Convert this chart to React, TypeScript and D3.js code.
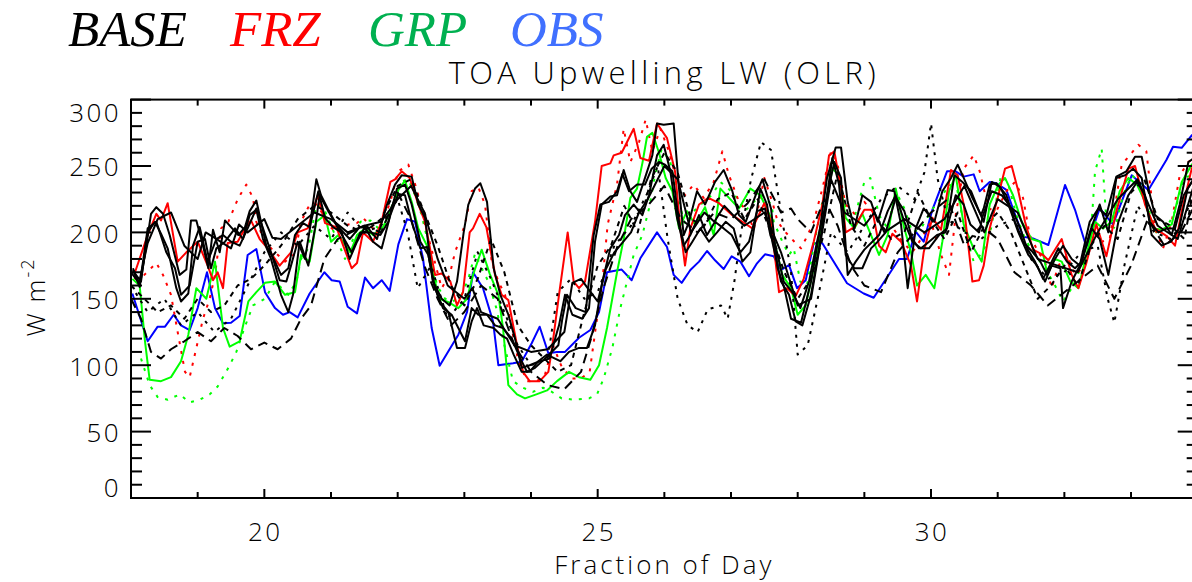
import React from 'react';
import * as d3 from 'd3';

type P = [number, number];

// ---------- axis ticks ----------
const X_LABEL_TICKS = [20, 25, 30];
const X_MINOR_TICKS = [19, 20, 21, 22, 23, 24, 25, 26, 27, 28, 29, 30, 31, 32, 33];
const Y_LABEL_TICKS = [0, 50, 100, 150, 200, 250, 300];
const Y_MINOR_TICKS = [10, 20, 30, 40, 60, 70, 80, 90, 110, 120, 130, 140, 160, 170, 180, 190, 210, 220, 230, 240, 260, 270, 280, 290];

const LEGEND = ['BASE', 'FRZ', 'GRP', 'OBS'];

// ---------- data: [fraction of day, W m-2] ----------
const OBS: P[] = [[18.02,154],[18.25,118],[18.40,129],[18.51,129],[18.64,138],[18.75,130],[18.88,126.5],[19.00,143],[19.14,170],[19.26,143],[19.38,131.5],[19.50,132],[19.63,137],[19.75,183],[19.88,187.5],[20.01,155],[20.16,143],[20.28,138],[20.38,140],[20.50,136],[20.68,154],[20.90,170],[21.01,164],[21.13,163],[21.25,144],[21.39,139],[21.51,166],[21.63,158],[21.76,164],[21.88,156],[22.01,191],[22.14,210],[22.26,208],[22.38,180.5],[22.51,128],[22.63,99.6],[22.79,113],[22.91,123],[23.04,140],[23.13,170],[23.28,158],[23.43,133],[23.51,100],[23.73,101.5],[23.86,102.6],[24.01,116.5],[24.13,129],[24.26,109],[24.39,110],[24.51,110],[24.72,120.7],[24.89,126.5],[25.02,140],[25.14,170],[25.36,172],[25.51,164],[25.64,180.5],[25.89,200],[26.04,189],[26.14,168],[26.26,162],[26.39,171.7],[26.52,178],[26.64,186],[26.76,179],[26.89,172.4],[27.01,182],[27.14,178],[27.27,167],[27.39,176.7],[27.51,183.5],[27.64,182],[27.75,171.7],[27.87,175.4],[27.99,158],[28.12,164],[28.24,191.8],[28.37,191.8],[28.74,161.7],[28.99,154],[29.14,150.8],[29.52,180],[29.64,180],[29.77,200.5],[29.89,193],[30.02,217],[30.24,246],[30.37,246],[30.49,242],[30.64,243.7],[30.73,231],[30.88,238],[30.98,237],[31.13,232],[31.21,220.6],[31.38,196.8],[31.53,195.5],[31.76,190.5],[32.01,235.7],[32.16,217],[32.33,189],[32.53,218],[32.73,206],[33.01,243],[33.26,232],[33.53,254.5],[33.63,264.5],[33.76,263.7],[33.91,273],[34.0,276]];

const FRZ_SOLID: P[] = [[18.06,170],[18.25,198],[18.38,214],[18.45,209],[18.55,222],[18.70,178],[18.83,185],[19.00,193],[19.15,175],[19.23,164],[19.30,170],[19.38,158],[19.45,192],[19.60,193],[19.71,203],[19.80,209],[19.93,195],[20.05,188],[20.23,175],[20.40,185],[20.50,200],[20.65,203],[20.80,228],[20.91,207],[21.08,204],[21.31,173],[21.39,177],[21.48,200],[21.63,193],[21.76,208],[21.89,238],[21.96,240],[22.06,246],[22.18,241],[22.31,221],[22.41,208],[22.56,168],[22.66,169],[22.79,163],[22.89,145],[22.98,155],[23.08,200],[23.13,203],[23.23,214],[23.33,204],[23.46,168],[23.56,153],[23.66,149],[23.79,115],[23.88,95],[23.98,88],[24.13,88],[24.26,95],[24.31,111],[24.42,153],[24.55,200],[24.64,163],[24.72,158],[24.81,163],[24.96,208],[25.06,250],[25.19,252],[25.24,258],[25.36,260],[25.54,278],[25.64,256],[25.77,254],[25.89,282],[26.04,271],[26.16,246],[26.24,203],[26.31,175],[26.39,203],[26.52,221],[26.66,226],[26.82,222],[27.02,213],[27.17,208],[27.32,203],[27.50,222],[27.60,208],[27.72,155],[27.84,158],[27.97,152],[28.09,165],[28.24,193],[28.37,221],[28.47,258],[28.55,261],[28.65,233],[28.72,200],[28.85,204],[29.00,217],[29.12,217],[29.22,190],[29.32,185],[29.42,199],[29.55,193],[29.70,175],[29.79,148],[29.89,185],[30.02,211],[30.15,202],[30.30,247],[30.40,243],[30.49,221],[30.62,163],[30.72,164],[30.79,175],[30.88,203],[31.01,228],[31.11,248],[31.21,250],[31.31,231],[31.41,208],[31.53,187],[31.68,183],[31.76,179],[31.96,195],[32.11,168],[32.21,158],[32.33,177],[32.48,206],[32.63,182],[32.78,216],[32.96,248],[33.06,250],[33.21,221],[33.36,203],[33.54,197],[33.66,190],[33.76,216],[33.91,248],[34.0,255]];

const FRZ_DOTTED: P[] = [[18.05,165],[18.20,168],[18.38,177],[18.48,168],[18.60,153],[18.70,125],[18.81,95],[18.88,91],[18.98,113],[19.08,135],[19.18,150],[19.26,168],[19.35,203],[19.46,208],[19.61,226],[19.73,236],[19.83,226],[19.88,208],[20.01,193],[20.16,185],[20.31,178],[20.46,184],[20.55,208],[20.68,221],[20.80,221],[20.95,206],[21.08,200],[21.26,206],[21.39,207],[21.48,211],[21.63,203],[21.76,206],[21.89,223],[22.01,246],[22.16,251],[22.29,232],[22.41,206],[22.53,183],[22.66,158],[22.78,168],[22.86,185],[23.01,206],[23.11,231],[23.21,234],[23.31,221],[23.41,178],[23.51,163],[23.61,153],[23.71,128],[23.81,103],[23.94,88],[24.09,88],[24.21,93],[24.33,115],[24.45,100],[24.60,90],[24.75,90],[24.88,95],[24.97,128],[25.07,163],[25.15,206],[25.29,236],[25.39,278],[25.49,253],[25.62,268],[25.72,285],[25.82,261],[25.94,278],[26.07,261],[26.19,238],[26.31,228],[26.44,236],[26.59,226],[26.74,238],[26.87,261],[26.97,243],[27.12,223],[27.24,216],[27.34,202],[27.50,241],[27.63,221],[27.70,208],[27.82,200],[27.95,193],[28.05,188],[28.12,195],[28.24,208],[28.37,233],[28.50,261],[28.59,253],[28.72,221],[28.87,213],[29.00,223],[29.15,214],[29.30,200],[29.42,204],[29.57,193],[29.72,185],[29.85,195],[30.00,208],[30.15,183],[30.27,168],[30.37,213],[30.49,248],[30.64,258],[30.73,246],[30.86,218],[30.98,216],[31.13,231],[31.26,238],[31.38,226],[31.48,198],[31.61,185],[31.71,178],[31.81,158],[31.91,175],[32.04,183],[32.16,168],[32.31,175],[32.43,206],[32.56,193],[32.68,195],[32.86,251],[32.98,258],[33.11,266],[33.23,261],[33.36,203],[33.48,188],[33.61,208],[33.73,243],[33.86,253],[34.0,258]];

const GRP_SOLID: P[] = [[18.02,165],[18.13,160],[18.21,118],[18.28,89],[18.45,88],[18.60,91],[18.75,103],[18.86,123],[18.98,158],[19.13,150],[19.26,178],[19.38,128],[19.48,114],[19.63,118],[19.76,148],[19.88,155],[20.01,162],[20.16,163],[20.31,153],[20.46,155],[20.55,183],[20.68,178],[20.78,208],[20.91,213],[21.00,193],[21.11,198],[21.29,185],[21.39,198],[21.51,203],[21.63,198],[21.78,204],[21.91,218],[22.01,232],[22.11,239],[22.21,223],[22.31,203],[22.44,190],[22.56,163],[22.63,150],[22.78,147],[22.91,143],[23.04,150],[23.13,168],[23.26,187],[23.38,169],[23.51,153],[23.58,128],[23.66,85],[23.79,78],[23.91,75],[24.08,78],[24.24,81],[24.39,88],[24.57,95],[24.72,91],[24.89,89],[25.02,100],[25.14,128],[25.29,170],[25.39,195],[25.49,226],[25.59,233],[25.67,252],[25.74,272],[25.82,275],[25.92,260],[26.02,241],[26.12,231],[26.22,203],[26.34,216],[26.46,206],[26.61,219],[26.74,198],[26.84,233],[26.97,226],[27.12,218],[27.29,233],[27.44,228],[27.59,212],[27.65,193],[27.77,168],[27.90,158],[28.00,138],[28.12,145],[28.24,173],[28.39,211],[28.52,248],[28.62,243],[28.72,211],[28.85,203],[28.97,214],[29.10,198],[29.22,183],[29.35,198],[29.47,233],[29.60,203],[29.70,185],[29.79,160],[29.92,168],[30.05,158],[30.17,193],[30.27,231],[30.37,243],[30.49,206],[30.62,190],[30.76,178],[30.88,221],[31.01,236],[31.11,241],[31.23,228],[31.36,208],[31.51,195],[31.64,193],[31.74,170],[31.86,180],[31.96,178],[32.09,163],[32.21,158],[32.34,185],[32.46,208],[32.58,203],[32.71,208],[32.83,231],[32.96,241],[33.09,236],[33.21,223],[33.34,203],[33.46,202],[33.61,206],[33.76,238],[33.91,251],[34.0,255]];

const GRP_DOTTED: P[] = [[18.15,105],[18.28,85],[18.40,76],[18.55,74],[18.73,78],[18.88,72],[19.03,74],[19.18,78],[19.30,84],[19.46,98],[19.58,110],[19.70,128],[19.83,145],[20.01,150],[20.16,163],[20.36,153],[20.48,163],[20.55,180],[20.66,188],[20.78,221],[20.91,216],[21.06,198],[21.21,180],[21.29,190],[21.44,208],[21.59,209],[21.71,203],[21.84,206],[21.93,223],[22.04,238],[22.16,240],[22.26,228],[22.36,213],[22.49,185],[22.59,160],[22.71,150],[22.83,148],[22.96,153],[23.06,165],[23.16,184],[23.26,173],[23.36,163],[23.48,143],[23.61,113],[23.73,88],[23.88,83],[24.03,80],[24.18,83],[24.31,80],[24.46,75],[24.66,74],[24.87,75],[24.99,78],[25.09,90],[25.22,113],[25.34,143],[25.44,163],[25.54,183],[25.67,198],[25.77,218],[25.86,243],[25.96,263],[26.09,253],[26.19,228],[26.31,206],[26.44,216],[26.59,223],[26.71,228],[26.84,238],[26.96,233],[27.09,226],[27.21,216],[27.34,223],[27.46,228],[27.61,221],[27.64,208],[27.77,193],[27.87,183],[27.94,188],[28.04,163],[28.14,160],[28.24,190],[28.37,223],[28.50,253],[28.59,248],[28.72,218],[28.85,211],[29.00,238],[29.09,241],[29.22,213],[29.35,203],[29.47,231],[29.60,218],[29.72,200],[29.85,203],[30.00,216],[30.15,226],[30.27,236],[30.39,233],[30.52,198],[30.64,178],[30.78,185],[30.90,203],[31.05,243],[31.15,238],[31.28,213],[31.41,195],[31.56,183],[31.68,175],[31.83,163],[31.98,148],[32.11,158],[32.26,175],[32.38,185],[32.46,246],[32.56,263],[32.63,208],[32.76,203],[32.88,228],[33.01,243],[33.13,238],[33.26,218],[33.38,200],[33.53,203],[33.66,216],[33.79,241],[33.91,243],[34.0,245]];

const BASE_A: P[] = [[18.03,172],[18.13,159],[18.23,190],[18.30,214],[18.38,219],[18.48,214],[18.58,198],[18.73,168],[18.83,172],[18.90,209],[18.98,209],[19.08,190],[19.16,173],[19.23,202],[19.33,185],[19.41,209],[19.50,204],[19.61,198],[19.71,204],[19.78,216],[19.88,224],[19.95,208],[20.03,190],[20.16,178],[20.25,168],[20.36,173],[20.46,198],[20.58,207],[20.68,204],[20.78,240],[20.85,228],[20.95,218],[21.08,206],[21.13,203],[21.28,195],[21.43,204],[21.56,203],[21.69,195],[21.84,221],[21.96,236],[22.06,243],[22.21,242],[22.31,221],[22.41,211],[22.53,163],[22.66,150],[22.78,145],[22.89,163],[22.99,200],[23.06,221],[23.16,233],[23.24,237],[23.34,223],[23.44,173],[23.54,153],[23.66,138],[23.76,120],[23.86,98],[23.98,100],[24.13,103],[24.28,105],[24.39,125],[24.42,130],[24.51,153],[24.62,138],[24.77,135],[24.87,143],[24.96,193],[25.06,221],[25.19,227],[25.29,228],[25.39,247],[25.49,231],[25.59,223],[25.69,238],[25.82,258],[25.89,282],[25.99,281],[26.14,282],[26.22,233],[26.29,198],[26.37,208],[26.49,231],[26.61,221],[26.76,238],[26.89,247],[27.02,231],[27.12,213],[27.22,208],[27.37,228],[27.47,240],[27.60,218],[27.70,173],[27.80,158],[27.90,135],[28.05,132],[28.20,163],[28.32,198],[28.44,241],[28.57,264],[28.65,264],[28.75,223],[28.85,203],[28.97,228],[29.10,223],[29.20,208],[29.35,232],[29.45,231],[29.55,206],[29.65,158],[29.77,203],[29.89,218],[30.05,208],[30.17,231],[30.30,241],[30.40,251],[30.49,241],[30.62,226],[30.75,213],[30.79,218],[30.88,236],[30.98,237],[31.13,228],[31.26,208],[31.38,193],[31.51,186],[31.64,178],[31.74,168],[31.86,180],[31.98,190],[32.11,180],[32.23,175],[32.38,208],[32.51,218],[32.63,213],[32.78,242],[32.93,246],[33.06,257],[33.16,257],[33.26,233],[33.36,213],[33.48,208],[33.61,198],[33.73,221],[33.86,253],[34.0,258]];

const BASE_B: P[] = [[18.03,171],[18.15,163],[18.25,200],[18.36,208],[18.45,199],[18.55,188],[18.68,158],[18.75,148],[18.86,154],[18.93,190],[19.03,204],[19.15,178],[19.28,195],[19.38,198],[19.50,193],[19.63,190],[19.75,203],[19.88,218],[19.98,203],[20.10,185],[20.23,164],[20.33,163],[20.40,175],[20.50,193],[20.61,180],[20.70,208],[20.81,231],[20.91,211],[21.03,204],[21.16,200],[21.28,180],[21.39,193],[21.51,204],[21.63,193],[21.76,188],[21.89,213],[22.01,229],[22.11,228],[22.21,208],[22.34,188],[22.44,189],[22.53,163],[22.63,148],[22.76,140],[22.89,113],[23.01,113],[23.11,133],[23.19,143],[23.29,130],[23.44,128],[23.54,123],[23.64,120],[23.74,108],[23.86,95],[23.98,95],[24.11,103],[24.24,108],[24.36,105],[24.44,103],[24.57,110],[24.72,113],[24.84,113],[24.96,130],[25.07,163],[25.19,188],[25.32,198],[25.41,213],[25.54,221],[25.67,213],[25.77,228],[25.89,258],[25.99,266],[26.09,246],[26.19,211],[26.29,190],[26.39,198],[26.52,213],[26.64,198],[26.76,208],[26.89,203],[27.01,198],[27.14,185],[27.27,193],[27.39,216],[27.51,218],[27.59,198],[27.69,185],[27.79,163],[27.92,155],[28.04,143],[28.17,163],[28.29,193],[28.42,221],[28.52,256],[28.62,236],[28.72,183],[28.85,173],[28.97,173],[29.10,188],[29.20,193],[29.32,200],[29.47,226],[29.60,216],[29.72,195],[29.82,188],[29.97,188],[30.12,198],[30.24,203],[30.37,228],[30.49,221],[30.59,206],[30.72,200],[30.78,213],[30.91,231],[31.06,228],[31.21,218],[31.34,203],[31.44,188],[31.56,178],[31.68,165],[31.81,178],[31.91,188],[32.04,178],[32.16,173],[32.26,178],[32.41,203],[32.53,195],[32.66,168],[32.81,208],[32.96,228],[33.09,238],[33.21,228],[33.31,198],[33.46,190],[33.60,193],[33.72,203],[33.85,233],[33.95,241],[34.0,245]];

const BASE_C: P[] = [[18.03,173],[18.13,160],[18.25,203],[18.38,208],[18.53,185],[18.66,173],[18.75,153],[18.88,160],[19.00,193],[19.11,195],[19.20,173],[19.28,188],[19.41,193],[19.56,203],[19.68,195],[19.78,213],[19.88,217],[19.98,195],[20.10,180],[20.25,153],[20.36,140],[20.43,153],[20.53,193],[20.66,175],[20.76,203],[20.83,228],[20.96,216],[21.11,203],[21.31,185],[21.44,200],[21.59,200],[21.74,198],[21.86,208],[21.99,233],[22.11,236],[22.21,221],[22.34,193],[22.46,183],[22.56,158],[22.68,143],[22.81,138],[22.91,128],[23.01,118],[23.11,143],[23.21,138],[23.34,138],[23.46,130],[23.58,128],[23.71,120],[23.84,105],[23.94,95],[24.06,98],[24.19,104],[24.31,110],[24.41,115],[24.47,135],[24.54,153],[24.67,143],[24.82,140],[24.94,198],[25.04,221],[25.17,223],[25.29,231],[25.37,244],[25.47,231],[25.59,236],[25.71,236],[25.81,248],[25.92,253],[26.01,251],[26.12,246],[26.22,208],[26.32,185],[26.42,193],[26.54,203],[26.67,193],[26.79,200],[26.92,208],[27.04,203],[27.17,178],[27.29,185],[27.44,233],[27.54,221],[27.62,193],[27.75,163],[27.87,153],[27.97,133],[28.07,130],[28.20,153],[28.32,188],[28.44,228],[28.55,253],[28.65,241],[28.75,168],[28.87,178],[29.00,187],[29.12,193],[29.22,198],[29.35,216],[29.47,228],[29.60,208],[29.72,193],[29.85,188],[29.97,193],[30.09,198],[30.22,200],[30.35,243],[30.47,238],[30.60,231],[30.72,216],[30.79,208],[30.91,238],[31.04,234],[31.16,221],[31.31,200],[31.46,183],[31.59,175],[31.71,163],[31.81,175],[31.94,173],[31.98,143],[32.11,163],[32.26,178],[32.38,200],[32.53,221],[32.66,200],[32.78,241],[32.91,243],[33.03,248],[33.16,241],[33.28,208],[33.41,200],[33.54,203],[33.66,203],[33.79,228],[33.91,238],[34.0,242]];

const BASE_D: P[] = [[18.0,170],[18.12,162],[18.25,192],[18.4,210],[18.6,215],[18.8,190],[19.0,180],[19.12,200],[19.25,196],[19.5,188],[19.62,206],[19.75,200],[20.0,210],[20.12,196],[20.25,195],[20.5,205],[20.75,215],[21.0,210],[21.25,200],[21.5,205],[21.75,208],[22.0,225],[22.2,235],[22.4,215],[22.6,180],[22.75,160],[23.0,150],[23.12,158],[23.25,140],[23.5,135],[23.75,115],[24.0,110],[24.25,112],[24.5,125],[24.62,162],[24.75,165],[24.85,158],[25.0,148],[25.12,172],[25.25,185],[25.5,200],[25.62,215],[25.75,225],[26.0,250],[26.2,240],[26.4,200],[26.6,215],[26.75,208],[26.9,220],[27.05,212],[27.2,205],[27.5,215],[27.75,185],[28.0,145],[28.2,150],[28.5,240],[28.7,215],[29.0,205],[29.15,215],[29.3,200],[29.6,210],[29.9,200],[30.2,210],[30.5,235],[30.8,200],[31.0,225],[31.3,215],[31.6,180],[31.9,175],[32.2,170],[32.5,200],[32.8,225],[33.1,240],[33.4,205],[33.7,195],[34.0,245]];

const BASE_E: P[] = [[18.0,160],[18.25,140],[18.5,150],[18.75,130],[19.0,140],[19.25,125],[19.5,135],[19.75,160],[20.0,185],[20.25,200],[20.5,190],[20.75,205],[21.0,195],[21.25,215],[21.5,200],[21.75,205],[22.0,225],[22.15,200],[22.3,158],[22.5,175],[22.75,135],[23.0,150],[23.2,185],[23.4,165],[23.6,140],[23.8,115],[24.0,100],[24.25,105],[24.4,155],[24.6,165],[24.8,150],[25.0,155],[25.25,190],[25.5,205],[25.75,230],[25.9,250],[26.05,195],[26.2,150],[26.35,130],[26.5,125],[26.65,142],[26.85,145],[26.95,135],[27.05,163],[27.15,200],[27.3,240],[27.45,268],[27.6,262],[27.75,215],[27.9,170],[28.0,108],[28.15,115],[28.3,150],[28.5,200],[28.75,185],[29.0,205],[29.25,225],[29.5,235],[29.75,225],[29.9,245],[30.0,282],[30.1,240],[30.25,210],[30.5,200],[30.75,195],[31.0,205],[31.25,210],[31.5,180],[31.75,165],[32.0,170],[32.25,185],[32.5,190],[32.65,150],[32.75,132],[32.9,175],[33.1,220],[33.35,200],[33.6,195],[33.8,210],[34.0,240]];

const BASE_F: P[] = [[18.0,150],[18.15,135],[18.3,110],[18.45,105],[18.6,112],[18.8,118],[19.0,125],[19.2,118],[19.4,128],[19.6,122],[19.8,112],[20.0,117],[20.2,112],[20.4,120],[20.55,135],[20.7,145],[20.9,180],[21.1,195],[21.3,200],[21.5,205],[21.75,200],[22.0,230],[22.2,210],[22.4,175],[22.6,150],[22.8,130],[23.0,140],[23.25,160],[23.5,150],[23.75,115],[24.0,95],[24.25,85],[24.5,82],[24.75,95],[24.9,120],[25.1,160],[25.3,190],[25.5,210],[25.75,220],[26.0,235],[26.25,210],[26.5,200],[26.75,215],[27.0,210],[27.25,222],[27.5,240],[27.75,215],[27.9,218],[28.0,210],[28.2,200],[28.4,225],[28.6,205],[28.8,175],[29.0,160],[29.25,155],[29.5,185],[29.75,200],[30.0,215],[30.25,225],[30.5,190],[30.75,205],[31.0,195],[31.25,170],[31.5,160],[31.75,145],[32.0,155],[32.25,165],[32.5,175],[32.75,150],[33.0,175],[33.25,210],[33.5,190],[33.75,200],[34.0,225]];

const BASE_G: P[] = [[18.0,160],[18.2,150],[18.4,140],[18.6,145],[18.8,135],[19.0,150],[19.2,140],[19.4,145],[19.6,160],[19.8,165],[20.0,175],[20.25,190],[20.5,210],[20.75,220],[21.0,215],[21.25,205],[21.5,200],[21.75,210],[22.0,235],[22.2,240],[22.4,215],[22.6,190],[22.8,160],[23.0,145],[23.2,165],[23.4,195],[23.6,170],[23.8,130],[24.0,115],[24.2,105],[24.4,95],[24.6,100],[24.8,140],[25.0,175],[25.2,190],[25.4,220],[25.6,200],[25.8,240],[26.0,260],[26.2,245],[26.4,210],[26.6,205],[26.8,225],[27.0,230],[27.2,210],[27.4,225],[27.6,200],[27.8,170],[28.0,150],[28.2,165],[28.4,200],[28.6,245],[28.8,205],[29.0,190],[29.2,210],[29.4,195],[29.6,200],[29.8,230],[30.0,210],[30.2,195],[30.4,215],[30.6,185],[30.8,205],[31.0,215],[31.2,200],[31.4,175],[31.6,150],[31.8,160],[32.0,175],[32.2,160],[32.4,190],[32.6,205],[32.8,195],[33.0,230],[33.2,240],[33.4,210],[33.6,205],[33.8,195],[34.0,250]];

// ---------- layout / styles ----------
const W = 1192, H = 582;
const PL = 131, PR = 1197.7, PT = 99.6, PB = 498;
const FONT = '"Open Sans", "DejaVu Sans", sans-serif';
const FW = 350;

const SERIES = [
  { data: OBS, color: '#0000ff', dash: null },
  { data: GRP_DOTTED, color: '#00ff00', dash: '3,7' },
  { data: FRZ_DOTTED, color: '#ff0000', dash: '3,7' },
  { data: GRP_SOLID, color: '#00ff00', dash: null },
  { data: FRZ_SOLID, color: '#ff0000', dash: null },
  { data: BASE_E, color: '#000000', dash: '3,6' },
  { data: BASE_F, color: '#000000', dash: '10,6' },
  { data: BASE_G, color: '#000000', dash: '5,5' },
  { data: BASE_D, color: '#000000', dash: null },
  { data: BASE_C, color: '#000000', dash: null },
  { data: BASE_B, color: '#000000', dash: null },
  { data: BASE_A, color: '#000000', dash: null },
];

const LEGEND_STYLE = [
  { color: '#000000', x: 68 },
  { color: '#ff0000', x: 230 },
  { color: '#00b050', x: 368 },
  { color: '#4070ff', x: 510 },
];

export default function App() {
  const x = d3.scaleLinear().domain([18, 34]).range([PL, PR]);
  const y = d3.scaleLinear().domain([0, 300]).range([PB, PT]);
  const line = d3.line<P>().x(d => x(d[0])).y(d => y(d[1]));

  const yLabelPos = (v: number) => {
    if (v === 300) return 113;
    if (v === 0) return 487.5;
    return y(v) + 1;
  };

  return (
    <svg width={W} height={H} style={{ position: 'absolute', left: 0, top: 0, background: '#fff' }}>
      <rect x={0} y={0} width={W} height={H} fill="#fff" />
      <defs>
        <clipPath id="plot">
          <rect x={PL} y={PT} width={PR - PL} height={PB - PT} />
        </clipPath>
      </defs>

      {/* legend */}
      {LEGEND.map((t, i) => (
        <text key={t} x={LEGEND_STYLE[i].x} y={46} fill={LEGEND_STYLE[i].color}
          fontFamily='"Liberation Serif", "Times New Roman", serif' fontStyle="italic" fontSize={51}>{t}</text>
      ))}

      {/* title */}
      <text x={(PL + PR) / 2} y={84} textAnchor="middle" fontFamily={FONT} fontWeight={FW} fontSize={31} letterSpacing={4.3} fill="#000">TOA Upwelling LW (OLR)</text>

      {/* series */}
      <g clipPath="url(#plot)" fill="none" strokeLinejoin="round">
        {SERIES.map((s, i) => (
          <path key={i} d={line(s.data) || ''} stroke={s.color} strokeWidth={2}
            strokeDasharray={s.dash || undefined} />
        ))}
      </g>

      {/* frame */}
      <rect x={PL} y={PT} width={PR - PL} height={PB - PT} fill="none" stroke="#000" strokeWidth={2} />

      {/* y ticks */}
      {Y_LABEL_TICKS.map(v => (
        <g key={'yl' + v}>
          <line x1={PL} x2={PL + 20} y1={y(v)} y2={y(v)} stroke="#000" strokeWidth={2} />
          <line x1={PR} x2={PR - 20} y1={y(v)} y2={y(v)} stroke="#000" strokeWidth={2} />
          <text x={121} y={yLabelPos(v)} dy="0.36em" textAnchor="end" fontFamily={FONT} fontWeight={FW} fontSize={26} letterSpacing={2.4} fill="#000">{v}</text>
        </g>
      ))}
      {Y_MINOR_TICKS.map(v => (
        <g key={'ym' + v}>
          <line x1={PL} x2={PL + 11} y1={y(v)} y2={y(v)} stroke="#000" strokeWidth={2} />
          <line x1={PR} x2={PR - 11} y1={y(v)} y2={y(v)} stroke="#000" strokeWidth={2} />
        </g>
      ))}

      {/* x ticks */}
      {X_MINOR_TICKS.map(v => {
        const len = X_LABEL_TICKS.includes(v) ? 9 : 6;
        return (
          <g key={'xm' + v}>
            <line x1={x(v)} x2={x(v)} y1={PB} y2={PB - len} stroke="#000" strokeWidth={2} />
            <line x1={x(v)} x2={x(v)} y1={PT} y2={PT + len} stroke="#000" strokeWidth={2} />
          </g>
        );
      })}
      {X_LABEL_TICKS.map(v => (
        <text key={'xl' + v} x={x(v) + 1} y={541} textAnchor="middle" fontFamily={FONT} fontWeight={FW} fontSize={26} letterSpacing={2.4} fill="#000">{v}</text>
      ))}

      {/* axis titles */}
      <text x={(PL + PR) / 2} y={574} textAnchor="middle" fontFamily={FONT} fontWeight={FW} fontSize={26} letterSpacing={3} fill="#000">Fraction of Day</text>
      <text transform="translate(45,297) rotate(-90)" textAnchor="middle" fontFamily={FONT} fontWeight={FW} fontSize={26} letterSpacing={2} fill="#000">
        W m<tspan dy={-11} fontSize={18}>-2</tspan>
      </text>
    </svg>
  );
}
